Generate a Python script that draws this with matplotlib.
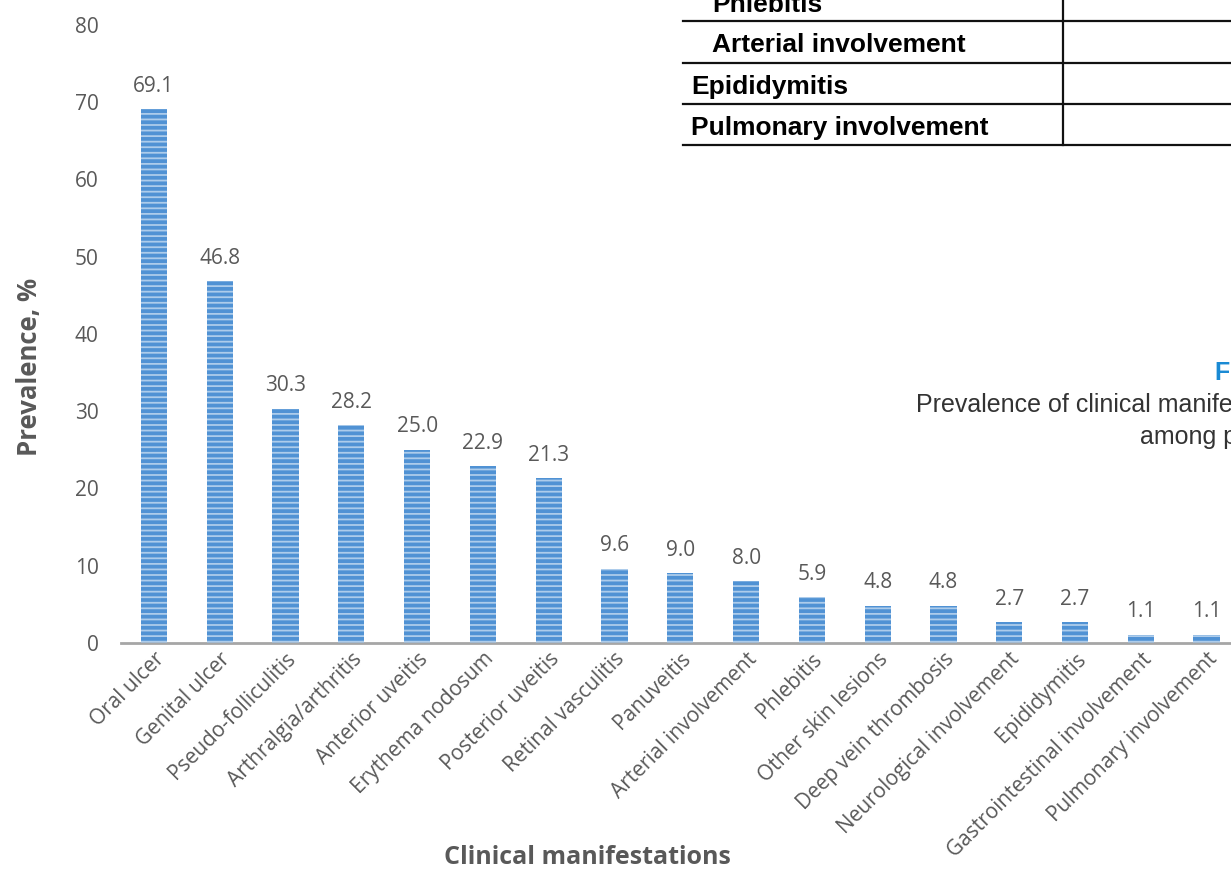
import matplotlib
matplotlib.use('Agg')
import matplotlib.pyplot as plt
from matplotlib.lines import Line2D

# Prevalence of each clinical manifestation (%)
manifestations = [
    'Oral ulcer', 'Genital ulcer', 'Pseudo-folliculitis', 'Arthralgia/arthritis',
    'Anterior uveitis', 'Erythema nodosum', 'Posterior uveitis', 'Retinal vasculitis',
    'Panuveitis', 'Arterial involvement', 'Phlebitis', 'Other skin lesions',
    'Deep vein thrombosis', 'Neurological involvement', 'Epididymitis',
    'Gastrointestinal involvement', 'Pulmonary involvement',
]
prevalence = [69.1, 46.8, 30.3, 28.2, 25.0, 22.9, 21.3, 9.6, 9.0, 8.0,
              5.9, 4.8, 4.8, 2.7, 2.7, 1.1, 1.1]
y_ticks = [0, 10, 20, 30, 40, 50, 60, 70, 80]

# Rows of the table sitting above the chart
table_rows = ['Phlebitis', 'Arterial involvement', 'Epididymitis', 'Pulmonary involvement']
table_indent = [True, True, False, False]

W, H = 1231, 869
grey = '#595959'
plt.rcParams['font.family'] = ['Open Sans', 'DejaVu Sans']
plt.rcParams['hatch.linewidth'] = 1.3

fig = plt.figure(figsize=(W / 100, H / 100), dpi=100)
ax = fig.add_axes([121 / W, 1 - 643 / H, 1 - 121 / W, (643 - 25) / H])

x = list(range(len(manifestations)))
ax.bar(x, prevalence, width=0.4, color='#5092d4', edgecolor='none', zorder=2)
ax.bar(x, prevalence, width=0.4, color='none', edgecolor='#adcceb',
       linewidth=0, hatch='---', zorder=3)

for xi, v in zip(x, prevalence):
    ax.annotate(f'{v:.1f}', (xi, v), xytext=(0, 9), textcoords='offset points',
                ha='center', va='bottom', fontsize=15, color=grey)

ax.set_xlim(-0.5, 16.37)
ax.set_ylim(0, 80)
ax.set_yticks(y_ticks)
ax.set_xticks(x)
ax.set_xticklabels(manifestations, rotation=45, ha='right', rotation_mode='anchor',
                   fontsize=15, color=grey)
ax.tick_params(axis='y', length=0, pad=16, labelsize=15, labelcolor=grey)
ax.tick_params(axis='x', length=0, pad=4)

for side in ['left', 'right', 'top']:
    ax.spines[side].set_visible(False)
ax.spines['bottom'].set_color('#a6a6a6')
ax.spines['bottom'].set_linewidth(2)

fig.text(30 / W, 1 - 367 / H, 'Prevalence, %', fontsize=18.5, fontweight='bold',
         color=grey, rotation=90, ha='center', va='center')
fig.text(587 / W, 1 - 857 / H, 'Clinical manifestations', fontsize=18,
         fontweight='bold', color=grey, ha='center', va='center')

# Table overlay in the top right
def px(xp, yp):
    return xp / W, 1 - yp / H

for yp in [21, 63, 104, 145]:
    fig.add_artist(Line2D([683 / W, 1], [1 - yp / H] * 2, color='#111111', lw=1.6))
fig.add_artist(Line2D([1063 / W] * 2, [1, 1 - 145 / H], color='#111111', lw=1.6))
for label, indent, yc in zip(table_rows, table_indent, [5, 45, 87, 128]):
    xp = 712 if indent else 691
    fig.text(*px(xp, yc), label, fontsize=19, fontweight='bold', color='black',
             family='Liberation Sans', ha='left', va='center')

# Figure caption, running past the right edge
fig.text(*px(1215, 373), 'Figure 1', fontsize=18, fontweight='bold', color='#1a8ad4',
         family='Liberation Sans', ha='left', va='center')
fig.text(*px(916, 405), 'Prevalence of clinical manifestations', fontsize=18,
         color='#333333', family='Liberation Sans', ha='left', va='center')
fig.text(*px(1140, 437), 'among patients', fontsize=18,
         color='#333333', family='Liberation Sans', ha='left', va='center')

fig.savefig('out.png', dpi=100)
